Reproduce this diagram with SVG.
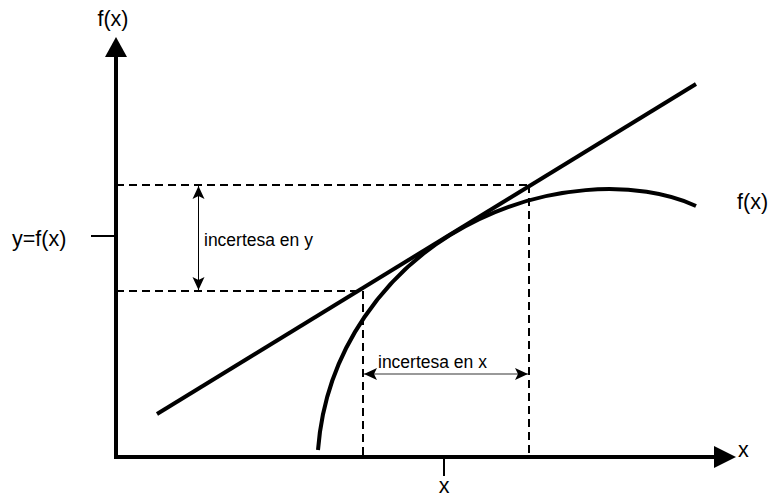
<svg xmlns="http://www.w3.org/2000/svg" width="770" height="497" viewBox="0 0 770 497">
<style>
.lbl{font-family:"Liberation Sans",Arial,sans-serif;fill:#000}
.big{font-size:21.5px}
.small{font-size:17.5px}
.thick{stroke:#000;stroke-width:4;fill:none}
.dash{stroke:#000;stroke-width:2;stroke-dasharray:8 5;fill:none}
.thin{stroke:#000;stroke-width:1;fill:none}
</style>
<defs>
<marker id="cls" viewBox="0 0 14 14" refX="13" refY="7" markerWidth="14" markerHeight="14" markerUnits="userSpaceOnUse" orient="auto-start-reverse">
<path d="M0,1 L13,7 L0,13 L3,7 Z" fill="#000"/>
</marker>
</defs>
<g id="axes">
<line class="thick" x1="116" y1="459" x2="116" y2="55"/>
<polygon points="116,37 105,57 127,57" fill="#000"/>
<line class="thick" x1="114" y1="457" x2="716" y2="457"/>
<polygon points="736,457 714,446 714,468" fill="#000"/>
<line stroke="#000" stroke-width="2" x1="91" y1="236" x2="116" y2="236"/>
<line stroke="#000" stroke-width="2" x1="444" y1="457" x2="444" y2="476"/>
</g>
<g id="tangent">
<line class="thick" x1="157" y1="414" x2="696" y2="84"/>
</g>
<g id="curve">
<path class="thick" d="M318,450 C326,345 390,272 450,235 C540,180 640,180 696,206"/>
</g>
<g id="connectors">
<line class="dash" x1="116" y1="185" x2="529" y2="185"/>
<line class="dash" x1="116" y1="291" x2="363" y2="291"/>
<line class="dash" x1="363" y1="291" x2="363" y2="457"/>
<line class="dash" x1="529" y1="185" x2="529" y2="457"/>
<line class="thin" x1="198.5" y1="186" x2="198.5" y2="290" marker-start="url(#cls)" marker-end="url(#cls)"/>
<line stroke="#777" stroke-width="1.5" x1="364" y1="374" x2="528" y2="374" marker-start="url(#cls)" marker-end="url(#cls)"/>
</g>
<g id="labels">
<text class="lbl big" x="113" y="26" text-anchor="middle">f(x)</text>
<text class="lbl big" x="12" y="246">y=f(x)</text>
<text class="lbl big" x="737" y="209">f(x)</text>
<text class="lbl big" x="738" y="457">x</text>
<text class="lbl big" x="444" y="493" text-anchor="middle">x</text>
<text class="lbl small" x="204" y="246">incertesa en y</text>
<text class="lbl small" x="378" y="368">incertesa en x</text>
</g>
</svg>
